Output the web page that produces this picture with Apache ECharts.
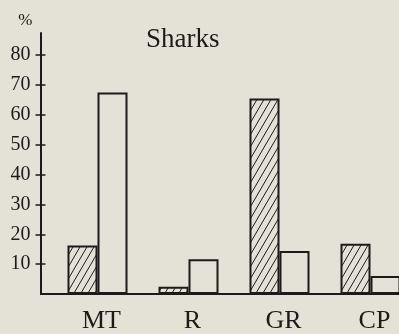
<!DOCTYPE html>
<html>
<head>
<meta charset="utf-8">
<script src="https://cdn.jsdelivr.net/npm/echarts@6/dist/echarts.min.js"></script>
<style>
  html, body { margin: 0; padding: 0; background: #e4e1d6; }
  #chart { width: 399px; height: 334px; }
</style>
</head>
<body>
<div id="chart"></div>
<script>
var categories = ['MT', 'R', 'GR', 'CP'];
var hatchedValues = [16.2, 2.4, 65.5, 16.8];
var plainValues = [67.5, 11.6, 14.4, 6.0];
var tickValues = [10, 20, 30, 40, 50, 60, 70, 80];

(function() {
  var ink = '#1c1b19';
  var bg = '#e4e1d6';
  var font = '"Liberation Serif", "DejaVu Serif", serif';

  // diagonal hatching tile
  var tile = document.createElement('canvas');
  tile.width = 7;
  tile.height = 12;
  var ctx = tile.getContext('2d');
  ctx.fillStyle = bg;
  ctx.fillRect(0, 0, 7, 12);
  ctx.strokeStyle = ink;
  ctx.lineWidth = 1;
  ctx.beginPath();
  ctx.moveTo(-1, 13.71); ctx.lineTo(8, -1.71);
  ctx.moveTo(-8, 13.71); ctx.lineTo(1, -1.71);
  ctx.moveTo(6, 13.71); ctx.lineTo(15, -1.71);
  ctx.stroke();

  var chart = echarts.init(document.getElementById('chart'));
  chart.setOption({
    animation: false,
    backgroundColor: bg,
    title: {
      text: 'Sharks',
      left: 141,
      top: 21,
      textStyle: { fontFamily: font, fontSize: 27, fontWeight: 'normal', color: ink }
    },
    grid: { left: 52, right: -17, top: 33, bottom: 40, outerBoundsMode: 'none', containLabel: false },
    xAxis: {
      type: 'category',
      data: categories,
      axisLine: { lineStyle: { color: ink, width: 2 } },
      axisTick: { show: false },
      axisLabel: {
        color: ink, fontFamily: font, fontSize: 26, margin: 14,
        padding: [0, 0, 0, 8]
      }
    },
    yAxis: [{
      type: 'value',
      min: 0,
      max: 87.4,
      offset: 11.5,
      name: '%',
      nameLocation: 'end',
      nameGap: 4,
      nameTextStyle: { color: ink, fontFamily: font, fontSize: 17, align: 'right', padding: [0, 8, 0, 0] },
      axisLine: { show: true, lineStyle: { color: ink, width: 2 } },
      axisTick: { show: true, length: 5, customValues: tickValues, lineStyle: { color: ink, width: 1.5 } },
      axisLabel: { color: ink, fontFamily: font, fontSize: 20, margin: 10, customValues: tickValues },
      splitLine: { show: false }
    }, {
      type: 'value',
      min: 0,
      max: 87.4,
      position: 'left',
      offset: 11.5,
      axisLine: { show: false },
      axisTick: { show: true, inside: true, length: 5, customValues: tickValues, lineStyle: { color: ink, width: 1.5 } },
      axisLabel: { show: false },
      splitLine: { show: false }
    }],
    series: [{
      type: 'bar',
      data: hatchedValues,
      barWidth: 30,
      barGap: '0%',
      itemStyle: {
        color: { image: tile, repeat: 'repeat' },
        borderColor: ink,
        borderWidth: 2
      }
    }, {
      type: 'bar',
      data: plainValues,
      barWidth: 30,
      barGap: '0%',
      itemStyle: { color: bg, borderColor: ink, borderWidth: 2 }
    }]
  });

  // extend the baseline back to the y-axis line
  var y0 = chart.convertToPixel({ yAxisIndex: 0 }, 0);
  chart.setOption({
    graphic: [{
      type: 'line',
      shape: { x1: 40, y1: y0, x2: 53, y2: y0 },
      style: { stroke: ink, lineWidth: 2 }
    }]
  });
})();
</script>
</body>
</html>
